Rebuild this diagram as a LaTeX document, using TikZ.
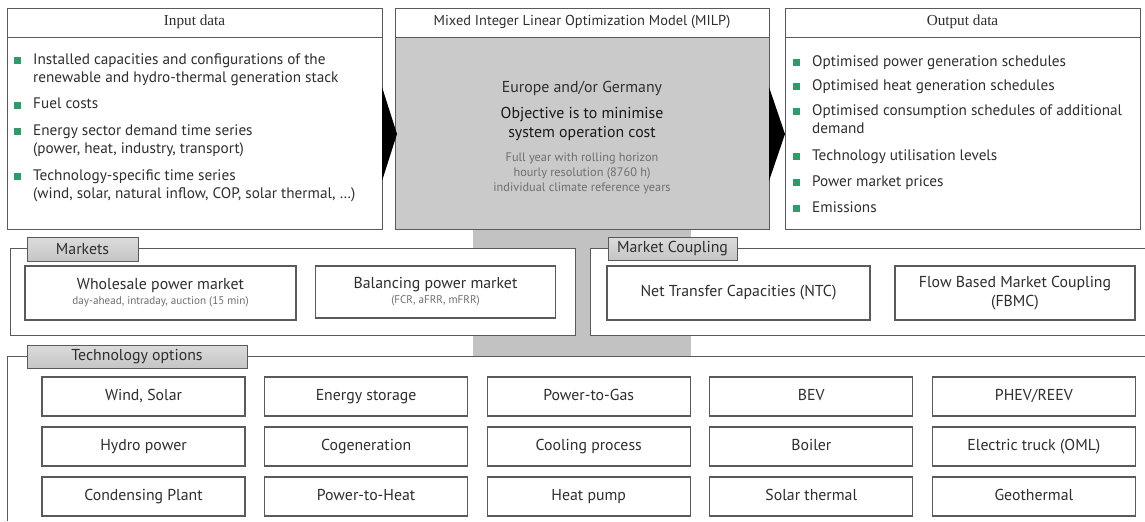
\documentclass[tikz,border=0pt]{standalone}
\usepackage{fontspec}
\setmainfont{PT Sans}
\newfontfamily\headfont{Liberation Serif}
\usetikzlibrary{positioning,calc}

\definecolor{bulletgreen}{HTML}{2E9B6B}
\definecolor{bodygray}{HTML}{CACACA}
\definecolor{colgray}{HTML}{C2C2C2}
\definecolor{linegray}{HTML}{5A5A5A}
\definecolor{textgray}{HTML}{2E2E2E}
\definecolor{smallgray}{HTML}{6E6E6E}

\newcommand\pxu{0.03cm}
\newcommand\bitem[3]{%
  \node[item] (#1) at #2 {#3};
  \fill[bulletgreen] (#1.north west) ++(-19,3.5) rectangle ++(7,7);}

\tikzset{
  panel/.style={draw=linegray, line width=0.6pt},
  tabbox/.style={draw=linegray, line width=0.5pt, top color=gray!28, bottom color=gray!45,
    inner sep=0pt, font=\fontsize{13.5}{15}\selectfont, text=textgray},
  optbox/.style={draw=linegray, fill=white, line width=0.9pt, align=center, inner sep=0pt,
    text height=1.75ex, text depth=0.5ex,
    minimum width=203*\pxu, minimum height=39*\pxu, font=\fontsize{13.5}{15}\selectfont, text=textgray},
  mktbox/.style={draw=linegray, fill=white, line width=0.9pt, align=center, inner sep=0pt,
    minimum height=54*\pxu, font=\fontsize{13.5}{16}\selectfont, text=textgray},
  item/.style={anchor=north west, align=left, inner sep=0pt,
    font=\fontsize{13}{16}\selectfont, text=textgray},
  head/.style={font=\headfont\fontsize{13}{15}\selectfont, text=textgray},
}

\begin{document}
\begin{tikzpicture}[x=\pxu, y=-\pxu]
  \useasboundingbox (0,0) rectangle (1145,521);

  % gray column behind the panels
  \fill[colgray] (473,229) rectangle (691,356);

  % input data
  \draw[panel] (7,8) rectangle (382,229);
  \draw[panel] (7,37) -- (382,37);
  \node[head] (inhead) at (194.5,22) {Input data};
  \bitem{in1}{(33,53)}{Installed capacities and configurations of the\\renewable and hydro-thermal generation stack}
  \bitem{in2}{(33,98)}{Fuel costs}
  \bitem{in3}{(33,124)}{Energy sector demand time series\\(power, heat, industry, transport)}
  \bitem{in4}{(33,169)}{Technology-specific time series\\(wind, solar, natural inflow, COP, solar thermal, \dots)}

  % model
  \fill[bodygray] (395,37) rectangle (769,229);
  \draw[panel] (395,8) rectangle (769,229);
  \draw[panel] (395,37) -- (769,37);
  \node[font=\fontsize{12.3}{14}\selectfont, text=textgray] (milp) at (582,22) {Mixed Integer Linear Optimization Model (MILP)};
  \node[font=\fontsize{13.5}{15}\selectfont, text=textgray] (region) at (582,88) {Europe and/or Germany};
  \node[align=center, font=\fontsize{13.5}{15.5}\selectfont, text=black!90] (goal) at (582,124) {Objective is to minimise\\system operation cost};
  \node[align=center, font=\fontsize{10.5}{12.8}\selectfont, text=smallgray] (horizon) at (582,173) {Full year with rolling horizon\\hourly resolution (8760 h)\\individual climate reference years};

  \fill (382,87) -- (397,134) -- (382,181) -- cycle;
  \fill (769,87) -- (785,134) -- (769,181) -- cycle;

  % output data
  \draw[panel] (785,8) rectangle (1140,229);
  \draw[panel] (785,37) -- (1140,37);
  \node[head] (outhead) at (962.5,22) {Output data};
  \bitem{out1}{(812,55)}{Optimised power generation schedules}
  \bitem{out2}{(812,79)}{Optimised heat generation schedules}
  \bitem{out3}{(812,104)}{Optimised consumption schedules of additional\\demand}
  \bitem{out4}{(812,149)}{Technology utilisation levels}
  \bitem{out5}{(812,175)}{Power market prices}
  \bitem{out6}{(812,201)}{Emissions}

  % markets
  \draw[panel, fill=white] (10,248) rectangle (575,335);
  \node[tabbox, minimum width=111*\pxu, minimum height=24*\pxu] (mkttab) at (82.5,249) {Markets};
  \node[mktbox, minimum width=271*\pxu] (wholesale) at (160.5,293)
    {Wholesale power market\\[-3pt]{\fontsize{9.5}{11}\selectfont\color{smallgray}day-ahead, intraday, auction (15 min)}};
  \node[mktbox, minimum width=240*\pxu, minimum height=52*\pxu] (balancing) at (435.5,292)
    {Balancing power market\\[-3pt]{\fontsize{9.5}{11}\selectfont\color{smallgray}(FCR, aFRR, mFRR)}};

  % market coupling
  \fill[white] (590,248) rectangle (1145,335);
  \draw[panel] (1145,248) -- (590,248) -- (590,335) -- (1145,335);
  \node[tabbox, minimum width=129*\pxu, minimum height=23*\pxu] (coupltab) at (672.5,248.5) {Market Coupling};
  \node[mktbox, minimum width=263*\pxu] (ntc) at (738.5,293) {Net Transfer Capacities (NTC)};
  \node[mktbox, minimum width=240*\pxu] (fbmc) at (1015,293) {Flow Based Market Coupling\\(FBMC)};

  % technology options
  \draw[panel] (1145,356) -- (7,356) -- (7,521);
  \node[tabbox, minimum width=220*\pxu, minimum height=23*\pxu] (techtab) at (137,356.5) {Technology options};
  \foreach \name/\txt [count=\i from 0] in {
      wind/{Wind, Solar}, storage/Energy storage, ptg/Power-to-Gas, bev/BEV, phev/{PHEV/REEV},
      hydro/Hydro power, chp/Cogeneration, cooling/Cooling process, boiler/Boiler, truck/Electric truck (OML),
      cond/Condensing Plant, pth/Power-to-Heat, hp/Heat pump, solth/Solar thermal, geo/Geothermal} {
    \pgfmathtruncatemacro\col{mod(\i,5)}
    \pgfmathtruncatemacro\row{div(\i,5)}
    \node[optbox] (\name) at ({143.5+222.6*\col},{396.5+50*\row}) {\txt};
  }
\end{tikzpicture}
\end{document}
